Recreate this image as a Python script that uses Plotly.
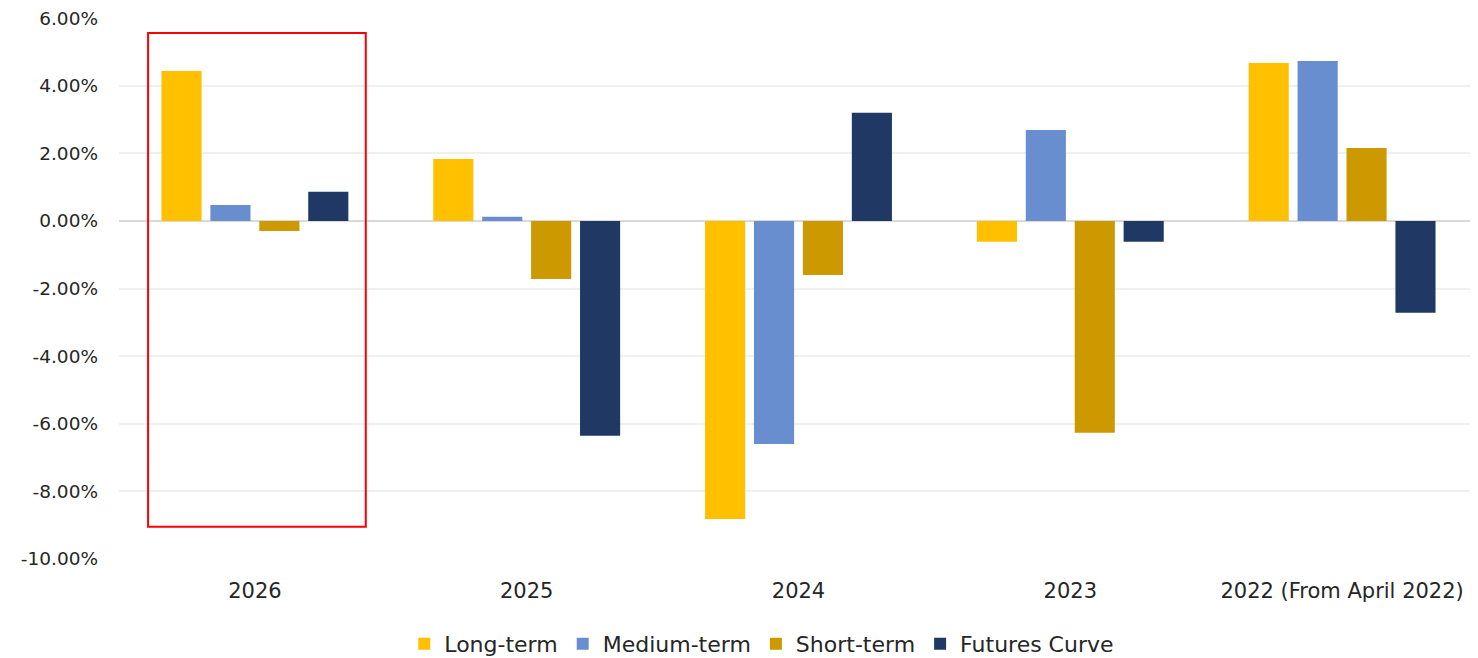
import plotly.graph_objects as go

categories = ["2026", "2025", "2024", "2023", "2022 (From April 2022)"]
long_term = [4.44, 1.83, -8.82, -0.62, 4.67]
medium_term = [0.47, 0.12, -6.60, 2.69, 4.73]
short_term = [-0.30, -1.72, -1.60, -6.27, 2.16]
futures_curve = [0.86, -6.36, 3.20, -0.62, -2.72]

y_tick_values = [-0.10, -0.08, -0.06, -0.04, -0.02, 0, 0.02, 0.04, 0.06]
y_tick_labels = ["-10.00%", "-8.00%", "-6.00%", "-4.00%", "-2.00%", "0.00%", "2.00%", "4.00%", "6.00%"]

series = [
    ("Long-term", long_term, "#FFC000"),
    ("Medium-term", medium_term, "#698ED0"),
    ("Short-term", short_term, "#CC9A00"),
    ("Futures Curve", futures_curve, "#203864"),
]

font_family = "DejaVu Sans"

fig = go.Figure()
for name, vals, color in series:
    fig.add_trace(go.Bar(
        x=categories,
        y=[v / 100 for v in vals],
        name=name,
        marker=dict(color=color, line=dict(width=0)),
    ))

fig.update_layout(
    width=1478, height=658,
    margin=dict(l=111, r=8, t=10, b=107, autoexpand=False),
    plot_bgcolor="white", paper_bgcolor="white",
    barmode="group", bargap=0.28, bargroupgap=0.18,
    font=dict(family=font_family, size=20, color="#262626"),
    legend=dict(orientation="h", xref="container", x=0.51, xanchor="center",
                y=-0.118, yanchor="top",
                font=dict(size=22), traceorder="normal", itemwidth=30),
    showlegend=True,
)
fig.update_xaxes(showgrid=False, showline=False, ticks="", automargin=False,
                 tickfont=dict(size=21), ticklabelstandoff=17)
fig.update_yaxes(
    range=[-0.10005, 0.06005], tickvals=y_tick_values, ticktext=y_tick_labels,
    showgrid=True, gridcolor="#F0F0F0", gridwidth=1.5, automargin=False,
    zeroline=True, zerolinecolor="#D9D9D9", zerolinewidth=2,
    ticklabelstandoff=20, tickfont=dict(size=18.5), ticklabeloverflow="allow",
)

# highlight box around the 2026 group (category index 0)
fig.add_shape(type="rect", xref="x", yref="y",
              x0=-0.393, x1=0.408, y0=-0.0905, y1=0.0556,
              line=dict(color="#FF0000", width=2), fillcolor="rgba(0,0,0,0)")

fig.write_html("out.html")
